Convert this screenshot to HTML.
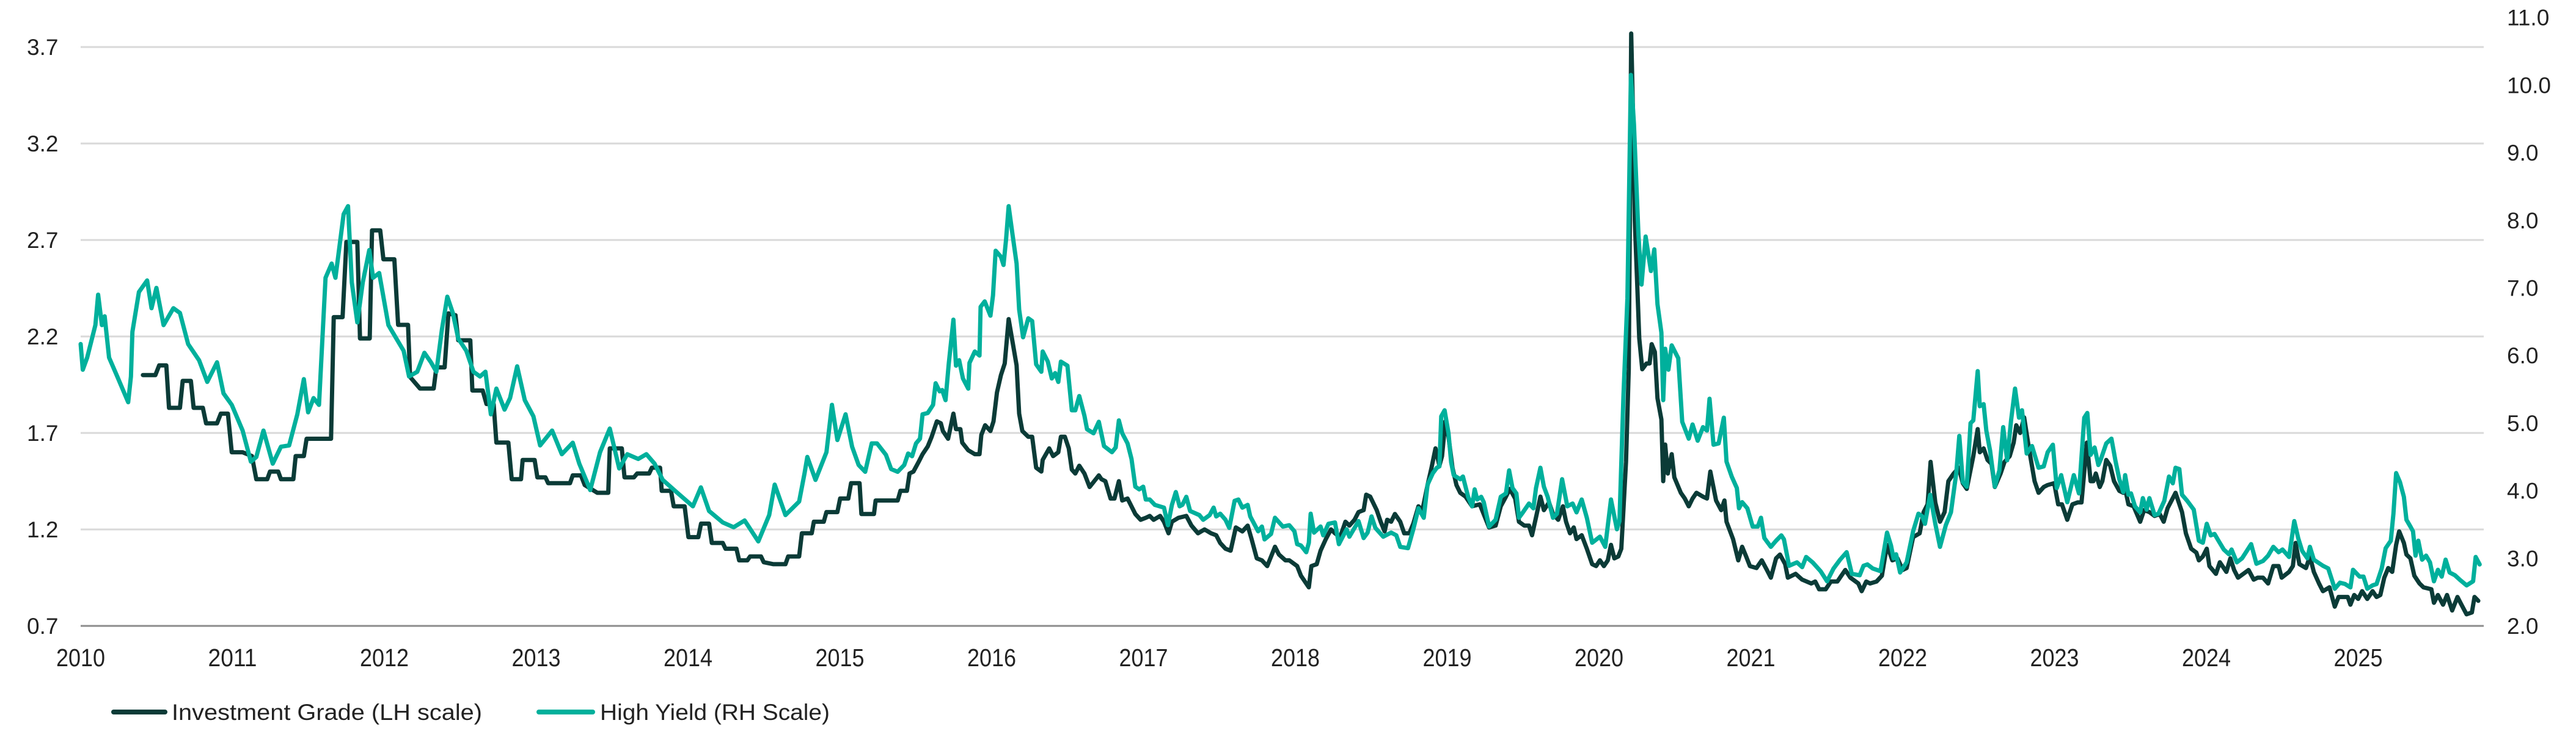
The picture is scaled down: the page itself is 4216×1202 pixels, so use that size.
<!DOCTYPE html>
<html><head><meta charset="utf-8"><style>
html,body{margin:0;padding:0;background:#fff;}
svg{display:block;font-family:"Liberation Sans",sans-serif;}
</style></head><body>
<svg id="chart" width="4216" height="1202" viewBox="0 0 4216 1202" xmlns="http://www.w3.org/2000/svg">
<g id="grid"></g>
<g id="axes"></g>
<g id="series"></g>
<g id="legend">
  <line x1="186" y1="1166" x2="270" y2="1166" stroke="#0b3b37" stroke-width="8" stroke-linecap="round"/>
  <text x="281" y="1179" font-size="37" fill="#222" textLength="508" lengthAdjust="spacingAndGlyphs">Investment Grade (LH scale)</text>
  <line x1="882" y1="1166" x2="970" y2="1166" stroke="#00b09c" stroke-width="8" stroke-linecap="round"/>
  <text x="982" y="1179" font-size="37" fill="#222" textLength="376" lengthAdjust="spacingAndGlyphs">High Yield (RH Scale)</text>
</g>
</svg>
<script>
const leftTicks=[0.7,1.2,1.7,2.2,2.7,3.2,3.7];
const leftTickLabels=["0.7","1.2","1.7","2.2","2.7","3.2","3.7"];
const rightTicks=[2,3,4,5,6,7,8,9,10,11];
const rightTickLabels=["2.0","3.0","4.0","5.0","6.0","7.0","8.0","9.0","10.0","11.0"];
const yearTicks=[2010,2011,2012,2013,2014,2015,2016,2017,2018,2019,2020,2021,2022,2023,2024,2025];
const igDates=[2010.410,2010.492,2010.517,2010.564,2010.582,2010.654,2010.672,2010.726,2010.744,2010.805,2010.826,2010.898,2010.923,2010.970,2010.995,2011.067,2011.128,2011.157,2011.229,2011.247,2011.301,2011.319,2011.401,2011.416,2011.470,2011.488,2011.552,2011.649,2011.667,2011.725,2011.750,2011.822,2011.840,2011.904,2011.919,2011.973,2011.994,2012.066,2012.091,2012.156,2012.170,2012.235,2012.325,2012.343,2012.397,2012.422,2012.469,2012.487,2012.566,2012.580,2012.648,2012.673,2012.720,2012.738,2012.817,2012.839,2012.900,2012.911,2012.990,2013.008,2013.061,2013.079,2013.223,2013.241,2013.295,2013.320,2013.403,2013.475,2013.485,2013.564,2013.582,2013.644,2013.665,2013.744,2013.762,2013.816,2013.827,2013.888,2013.906,2013.978,2014.003,2014.068,2014.086,2014.139,2014.157,2014.229,2014.247,2014.319,2014.337,2014.391,2014.409,2014.481,2014.499,2014.563,2014.642,2014.660,2014.732,2014.750,2014.815,2014.829,2014.894,2014.912,2014.984,2015.002,2015.056,2015.074,2015.130,2015.142,2015.225,2015.236,
2015.304,2015.381,2015.399,2015.442,2015.459,2015.485,2015.519,2015.545,2015.579,2015.605,2015.639,2015.665,2015.679,2015.713,2015.748,2015.765,2015.794,2015.806,2015.846,2015.889,2015.920,2015.932,2015.957,2015.992,2016.012,2016.035,2016.061,2016.086,2016.112,2016.138,2016.164,2016.181,2016.202,2016.241,2016.267,2016.293,2016.327,2016.336,2016.379,2016.405,2016.439,2016.456,2016.482,2016.508,2016.528,2016.551,2016.577,2016.611,2016.645,2016.706,2016.723,2016.749,2016.783,2016.809,2016.838,2016.860,2016.895,2016.946,2016.981,2017.015,2017.041,2017.067,2017.110,2017.135,2017.165,2017.187,2017.230,2017.282,2017.316,2017.359,2017.402,2017.445,2017.479,2017.505,2017.540,2017.574,2017.608,2017.651,2017.686,2017.712,2017.746,2017.780,2017.815,2017.866,2017.892,2017.935,
2017.960,2018.012,2018.037,2018.089,2018.106,2018.141,2018.166,2018.201,2018.235,2018.261,2018.295,2018.330,2018.356,2018.390,2018.416,2018.450,2018.467,2018.493,2018.536,2018.562,2018.588,2018.605,2018.631,2018.656,2018.691,2018.717,2018.751,2018.777,2018.811,2018.837,2018.871,2018.897,2018.923,2018.949,2018.966,2018.988,2019.009,2019.035,2019.061,2019.086,2019.121,2019.164,2019.215,2019.276,2019.319,2019.353,2019.387,2019.413,2019.448,2019.473,2019.508,2019.539,2019.559,2019.590,2019.614,2019.637,2019.671,2019.697,2019.731,2019.762,2019.783,2019.809,2019.834,2019.852,2019.886,2019.920,2019.955,2019.981,2020.006,2020.032,2020.058,2020.079,2020.101,2020.127,2020.147,2020.178,2020.196,2020.212,2020.228,2020.236,2020.265,2020.285,2020.313,2020.333,2020.347,2020.368,2020.385,2020.411,2020.423,2020.436,2020.453,2020.479,2020.496,2020.539,2020.565,2020.591,
2020.616,2020.642,2020.685,2020.711,2020.733,2020.771,2020.805,2020.826,2020.840,2020.883,2020.917,2020.943,2020.969,2020.994,2021.037,2021.072,2021.106,2021.132,2021.166,2021.192,2021.226,2021.244,2021.295,2021.338,2021.398,2021.424,2021.450,2021.493,2021.527,2021.570,2021.596,2021.622,2021.656,2021.708,2021.730,2021.760,2021.785,2021.828,2021.863,2021.897,2021.932,2021.966,2022.000,2022.026,2022.069,2022.112,2022.138,2022.164,2022.184,2022.215,2022.246,2022.276,2022.301,2022.336,2022.370,2022.396,2022.422,2022.465,2022.494,2022.508,2022.533,2022.559,2022.585,2022.607,2022.645,2022.671,2022.705,2022.731,2022.748,2022.774,2022.800,2022.834,2022.869,2022.895,2022.929,2022.955,2022.998,2023.024,2023.049,2023.084,2023.118,2023.152,2023.178,2023.213,2023.238,2023.256,
2023.272,2023.298,2023.315,2023.341,2023.367,2023.392,2023.427,2023.453,2023.465,2023.487,2023.521,2023.564,2023.590,2023.625,2023.659,2023.693,2023.719,2023.745,2023.771,2023.797,2023.840,2023.865,2023.900,2023.934,2023.951,2023.977,2024.003,2024.020,2024.063,2024.089,2024.132,2024.158,2024.183,2024.209,2024.244,2024.278,2024.312,2024.338,2024.373,2024.407,2024.441,2024.476,2024.496,2024.545,2024.570,2024.588,2024.613,2024.656,2024.682,2024.708,2024.742,2024.768,2024.811,2024.846,2024.871,2024.931,2024.949,2024.974,2025.000,2025.026,2025.060,2025.095,2025.121,2025.146,2025.172,2025.198,2025.224,2025.250,2025.270,2025.301,2025.318,2025.344,2025.370,2025.404,2025.430,2025.482,2025.499,2025.525,2025.559,2025.585,2025.619,2025.654,2025.680,2025.714,2025.749,2025.766,2025.791];
const igValues=[2.00,2.00,2.05,2.05,1.83,1.83,1.97,1.97,1.83,1.83,1.75,1.75,1.80,1.80,1.60,1.60,1.58,1.46,1.46,1.50,1.50,1.46,1.46,1.58,1.58,1.67,1.67,1.67,2.30,2.30,2.69,2.69,2.19,2.19,2.75,2.75,2.60,2.60,2.26,2.26,1.99,1.93,1.93,2.04,2.04,2.32,2.31,2.18,2.18,1.92,1.92,1.85,1.85,1.65,1.65,1.46,1.46,1.56,1.56,1.47,1.47,1.44,1.44,1.48,1.48,1.43,1.39,1.39,1.62,1.62,1.47,1.47,1.49,1.49,1.52,1.52,1.40,1.40,1.32,1.32,1.16,1.16,1.23,1.23,1.13,1.13,1.10,1.10,1.04,1.04,1.06,1.06,1.03,1.02,1.02,1.06,1.06,1.18,1.18,1.24,1.24,1.29,1.29,1.36,1.36,1.44,1.44,1.28,1.28,1.35,
1.35,1.35,1.40,1.40,1.49,1.50,1.55,1.59,1.63,1.68,1.76,1.75,1.71,1.67,1.80,1.72,1.72,1.65,1.61,1.59,1.59,1.69,1.74,1.71,1.76,1.91,2.00,2.06,2.29,2.17,2.05,1.80,1.71,1.68,1.68,1.52,1.50,1.56,1.62,1.58,1.60,1.68,1.68,1.62,1.51,1.49,1.53,1.49,1.42,1.48,1.46,1.45,1.36,1.36,1.45,1.35,1.36,1.28,1.25,1.26,1.27,1.25,1.27,1.24,1.18,1.24,1.26,1.27,1.22,1.18,1.20,1.18,1.17,1.13,1.10,1.09,1.21,1.19,1.22,1.15,1.05,1.04,1.01,1.11,1.07,1.04,
1.04,1.01,0.96,0.90,1.01,1.02,1.09,1.15,1.20,1.18,1.16,1.24,1.22,1.25,1.29,1.30,1.38,1.37,1.30,1.24,1.19,1.25,1.24,1.28,1.24,1.18,1.18,1.23,1.32,1.30,1.43,1.52,1.62,1.53,1.58,1.76,1.68,1.52,1.43,1.39,1.37,1.32,1.33,1.21,1.22,1.32,1.37,1.41,1.36,1.24,1.22,1.22,1.17,1.28,1.37,1.30,1.34,1.28,1.25,1.32,1.24,1.18,1.21,1.15,1.17,1.10,1.02,1.01,1.04,1.01,1.04,1.12,1.05,1.06,1.10,1.55,2.03,3.77,3.21,2.80,2.19,2.03,2.06,2.06,2.16,2.12,1.88,1.77,1.45,1.64,1.49,1.59,1.47,1.39,1.36,1.32,
1.36,1.39,1.37,1.36,1.50,1.35,1.30,1.35,1.24,1.15,1.04,1.11,1.06,1.01,1.00,1.04,0.99,0.95,1.05,1.07,1.02,0.95,0.97,0.94,0.92,0.93,0.89,0.89,0.93,0.93,0.96,0.99,0.95,0.92,0.88,0.93,0.92,0.93,0.96,1.12,1.04,1.05,0.99,1.00,1.16,1.18,1.29,1.33,1.55,1.34,1.24,1.29,1.45,1.49,1.52,1.44,1.41,1.58,1.72,1.60,1.62,1.56,1.54,1.42,1.49,1.55,1.58,1.65,1.74,1.70,1.78,1.61,1.45,1.39,1.42,1.43,1.44,1.33,1.33,1.25,1.33,1.34,1.34,1.65,1.45,1.45,
1.49,1.42,1.45,1.56,1.53,1.45,1.40,1.39,1.41,1.33,1.32,1.24,1.30,1.29,1.27,1.28,1.24,1.31,1.35,1.39,1.29,1.18,1.10,1.08,1.04,1.06,1.10,1.01,0.97,1.03,0.98,1.05,0.99,0.95,0.97,0.99,0.94,0.95,0.95,0.92,1.01,1.01,0.95,0.98,1.01,1.13,1.02,1.00,1.06,0.98,0.92,0.88,0.90,0.80,0.85,0.85,0.81,0.86,0.84,0.88,0.84,0.88,0.85,0.86,0.95,1.00,0.98,1.12,1.19,1.13,1.07,1.05,0.96,0.92,0.90,0.89,0.82,0.86,0.81,0.86,0.78,0.85,0.81,0.76,0.77,0.85,0.83];
const hyDates=[2010.000,2010.014,2010.043,2010.097,2010.115,2010.140,2010.158,2010.187,2010.241,2010.313,2010.331,2010.341,2010.384,2010.438,2010.467,2010.499,2010.546,2010.611,2010.654,2010.708,2010.780,2010.834,2010.898,2010.941,2010.995,2011.067,2011.121,2011.157,2011.204,2011.265,2011.319,2011.373,2011.427,2011.470,2011.498,2011.534,2011.570,2011.613,2011.653,2011.678,2011.732,2011.761,2011.786,2011.822,2011.858,2011.901,2011.926,2011.966,2012.027,2012.127,2012.163,2012.217,2012.264,2012.307,2012.343,2012.379,2012.415,2012.451,2012.487,2012.540,2012.587,2012.630,2012.666,2012.702,2012.738,2012.792,2012.828,2012.875,2012.925,2012.982,2013.026,2013.105,2013.169,2013.241,2013.284,2013.356,2013.421,2013.485,2013.547,2013.600,2013.672,2013.726,2013.780,2013.834,2013.924,2014.032,2014.085,2014.139,2014.229,2014.301,2014.373,2014.463,2014.535,2014.571,2014.642,2014.732,2014.768,2014.786,2014.840,2014.912,2014.948,2014.984,2015.038,2015.081,2015.124,2015.167,2015.210,2015.245,
2015.304,2015.338,2015.381,2015.424,2015.450,2015.476,2015.502,2015.528,2015.545,2015.579,2015.614,2015.631,2015.657,2015.674,2015.696,2015.717,2015.748,2015.765,2015.786,2015.811,2015.846,2015.854,2015.889,2015.920,2015.927,2015.954,2015.992,2016.009,2016.026,2016.061,2016.078,2016.095,2016.112,2016.138,2016.164,2016.181,2016.207,2016.241,2016.267,2016.293,2016.327,2016.336,2016.370,2016.396,2016.418,2016.439,2016.456,2016.499,2016.528,2016.551,2016.577,2016.611,2016.628,2016.671,2016.706,2016.740,2016.792,2016.817,2016.838,2016.860,2016.895,2016.921,2016.946,2016.972,2016.998,2017.015,2017.041,2017.075,2017.135,2017.161,2017.187,2017.213,2017.238,2017.256,2017.282,2017.307,2017.368,2017.393,2017.436,2017.462,2017.479,2017.505,2017.540,2017.565,2017.600,2017.625,2017.651,2017.686,2017.703,2017.755,2017.780,2017.797,2017.840,2017.866,2017.918,
2017.960,2017.994,2018.012,2018.037,2018.072,2018.089,2018.101,2018.123,2018.166,2018.184,2018.218,2018.261,2018.287,2018.338,2018.356,2018.416,2018.450,2018.476,2018.502,2018.527,2018.579,2018.631,2018.665,2018.691,2018.742,2018.777,2018.811,2018.846,2018.871,2018.906,2018.932,2018.949,2018.961,2018.983,2019.009,2019.026,2019.043,2019.086,2019.104,2019.138,2019.164,2019.181,2019.198,2019.224,2019.241,2019.276,2019.319,2019.353,2019.387,2019.408,2019.430,2019.456,2019.473,2019.499,2019.539,2019.568,2019.585,2019.614,2019.637,2019.662,2019.697,2019.723,2019.757,2019.791,2019.826,2019.852,2019.886,2019.920,2019.955,2020.006,2020.041,2020.079,2020.118,2020.135,2020.161,2020.187,2020.210,2020.230,2020.260,2020.280,2020.307,2020.342,2020.364,2020.385,2020.411,2020.423,2020.436,2020.457,2020.479,2020.522,2020.548,2020.591,
2020.616,2020.650,2020.685,2020.711,2020.728,2020.754,2020.788,2020.822,2020.840,2020.874,2020.908,2020.922,2020.943,2020.977,2021.012,2021.046,2021.067,2021.089,2021.132,2021.166,2021.201,2021.218,2021.252,2021.304,2021.338,2021.364,2021.407,2021.459,2021.502,2021.545,2021.588,2021.631,2021.665,2021.717,2021.742,2021.768,2021.803,2021.854,2021.897,2021.923,2021.940,2021.957,2021.983,2022.026,2022.069,2022.104,2022.129,2022.147,2022.181,2022.215,2022.246,2022.284,2022.318,2022.353,2022.373,2022.396,2022.422,2022.447,2022.465,2022.494,2022.508,2022.533,2022.551,2022.576,2022.607,2022.637,2022.662,2022.688,2022.714,2022.740,2022.766,2022.786,2022.817,2022.852,2022.895,2022.929,2022.955,2022.989,2023.015,2023.044,2023.084,2023.127,2023.161,2023.196,2023.216,2023.238,2023.264,
2023.289,2023.306,2023.341,2023.375,2023.401,2023.427,2023.453,2023.465,2023.487,2023.504,2023.530,2023.564,2023.582,2023.607,2023.625,2023.659,2023.685,2023.723,2023.754,2023.779,2023.797,2023.822,2023.840,2023.874,2023.917,2023.951,2023.977,2024.003,2024.029,2024.054,2024.080,2024.115,2024.149,2024.166,2024.201,2024.235,2024.261,2024.295,2024.330,2024.373,2024.407,2024.441,2024.476,2024.502,2024.545,2024.579,2024.605,2024.631,2024.665,2024.682,2024.708,2024.734,2024.768,2024.803,2024.846,2024.880,2024.914,2024.949,2024.966,2025.009,2025.035,2025.060,2025.095,2025.121,2025.155,2025.181,2025.215,2025.232,2025.250,2025.275,2025.301,2025.318,2025.344,2025.361,2025.378,2025.396,2025.421,2025.447,2025.473,2025.499,2025.525,2025.550,2025.576,2025.602,2025.637,2025.671,2025.714,2025.757,2025.774,2025.800];
const hyValues=[6.17,5.79,5.97,6.45,6.90,6.45,6.58,5.97,5.69,5.31,5.69,6.35,6.94,7.11,6.70,7.00,6.45,6.70,6.63,6.17,5.93,5.61,5.90,5.44,5.27,4.89,4.43,4.50,4.89,4.40,4.65,4.67,5.13,5.65,5.16,5.37,5.27,7.15,7.36,7.15,8.09,8.21,7.08,6.49,7.08,7.56,7.15,7.22,6.45,6.07,5.69,5.76,6.04,5.90,5.76,6.38,6.87,6.63,6.25,6.07,5.76,5.69,5.76,5.13,5.51,5.20,5.37,5.84,5.34,5.10,4.67,4.89,4.54,4.71,4.40,4.01,4.57,4.92,4.33,4.54,4.47,4.54,4.40,4.16,3.98,3.77,4.05,3.70,3.53,3.46,3.56,3.25,3.64,4.09,3.64,3.84,4.26,4.50,4.16,4.57,5.27,4.75,5.13,4.65,4.38,4.28,4.70,4.70,
4.53,4.32,4.28,4.38,4.55,4.51,4.70,4.77,5.13,5.15,5.27,5.59,5.47,5.49,5.34,5.87,6.53,5.85,5.93,5.66,5.51,5.89,6.06,6.00,6.72,6.80,6.59,6.89,7.55,7.46,7.34,7.72,8.21,7.78,7.36,6.68,6.27,6.55,6.51,5.87,5.76,6.06,5.91,5.66,5.74,5.61,5.91,5.85,5.19,5.19,5.40,5.11,4.91,4.85,5.02,4.66,4.57,4.64,5.04,4.85,4.70,4.47,4.06,4.02,4.06,3.87,3.87,3.79,3.75,3.49,3.79,3.98,3.77,3.79,3.91,3.70,3.64,3.57,3.64,3.75,3.62,3.66,3.57,3.45,3.85,3.87,3.75,3.79,3.62,3.40,3.47,3.28,3.36,3.60,3.47,
3.49,3.40,3.21,3.19,3.09,3.23,3.66,3.38,3.47,3.34,3.51,3.53,3.21,3.43,3.32,3.55,3.30,3.38,3.62,3.45,3.32,3.38,3.34,3.17,3.15,3.43,3.74,3.60,4.09,4.26,4.34,4.36,5.10,5.19,4.85,4.42,4.23,4.17,4.21,3.91,3.77,4.02,3.87,3.91,3.83,3.47,3.57,3.91,3.96,4.30,4.04,3.96,3.60,3.68,3.81,3.74,4.04,4.34,4.06,3.91,3.60,3.66,4.17,3.77,3.81,3.68,3.87,3.60,3.23,3.32,3.17,3.87,3.43,3.55,5.40,6.85,10.15,9.42,7.78,7.05,7.76,7.25,7.57,6.76,6.34,5.34,6.10,5.79,6.15,5.96,5.02,4.77,
4.98,4.74,4.94,4.89,5.36,4.68,4.70,5.08,4.43,4.21,4.04,3.74,3.83,3.74,3.47,3.47,3.60,3.30,3.17,3.26,3.34,3.28,2.89,2.94,2.87,3.02,2.94,2.81,2.66,2.85,2.98,3.09,2.77,2.75,2.89,2.91,2.85,2.81,3.38,3.19,3.00,3.06,2.79,2.94,3.40,3.66,3.62,3.51,3.94,3.51,3.17,3.49,3.68,4.26,4.81,4.13,4.06,5.00,5.04,5.77,5.25,5.28,4.89,4.59,4.06,4.30,4.94,4.45,5.04,5.51,5.08,5.19,4.55,4.66,4.34,4.36,4.57,4.68,4.04,4.23,3.83,4.23,3.96,5.08,5.15,4.53,4.64,
4.38,4.47,4.70,4.77,4.45,4.17,3.98,4.23,3.94,3.96,3.77,3.68,3.89,3.72,3.89,3.64,3.66,3.85,4.21,4.11,4.34,4.32,3.94,3.85,3.72,3.26,3.23,3.51,3.34,3.36,3.26,3.13,3.06,3.13,2.94,3.00,3.09,3.21,2.92,2.96,3.04,3.17,3.09,3.13,3.02,3.55,3.30,3.11,3.00,3.17,2.98,2.94,2.89,2.85,2.55,2.64,2.62,2.57,2.83,2.73,2.73,2.55,2.60,2.62,2.85,3.15,3.26,3.66,4.26,4.13,3.91,3.57,3.47,3.40,3.04,3.26,2.98,3.04,2.94,2.66,2.83,2.73,2.98,2.79,2.75,2.68,2.60,2.66,3.02,2.91];

const NS='http://www.w3.org/2000/svg';
const X0=132,X1=4065,PX_PER_YEAR=248.5,BASE_Y=1025;
function xScale(t){return X0+(t-2010)*PX_PER_YEAR;}
function yLeft(v){return BASE_Y-(v-0.7)*316;}
function yRight(v){return BASE_Y-(v-2)*110.7;}
function mk(tag,attrs,parent){const e=document.createElementNS(NS,tag);for(const k in attrs)e.setAttribute(k,attrs[k]);parent.appendChild(e);return e;}
const grid=document.getElementById('grid'),axes=document.getElementById('axes'),series=document.getElementById('series');

leftTicks.forEach((v,i)=>{
  const y=yLeft(v);
  if(i>0){
    const g=mk('line',{x1:X0,x2:X1,y1:y,y2:y,stroke:'#d9d9d9','stroke-width':3},grid);
    
    
  }
  const t=mk('text',{x:44,y:y+13,'font-size':37,fill:'#222'},axes);
  t.textContent=leftTickLabels[i];
  
  
});
rightTicks.forEach((v,i)=>{
  const t=mk('text',{x:4103,y:yRight(v)+13,'font-size':37,fill:'#222'},axes);
  t.textContent=rightTickLabels[i];
  
  
});
const ax=mk('line',{x1:X0,x2:X1,y1:BASE_Y,y2:BASE_Y,stroke:'#8c8c8c','stroke-width':3},axes);


yearTicks.forEach(yr=>{
  const t=mk('text',{x:xScale(yr),y:1091,'font-size':41,fill:'#222','text-anchor':'middle',textLength:80,lengthAdjust:'spacingAndGlyphs'},axes);
  t.textContent=String(yr);
  
  
});
function path(dates,vals,ys){return dates.map((d,i)=>(i?'L':'M')+xScale(d).toFixed(1)+','+ys(vals[i]).toFixed(1)).join('');}
const ig=mk('path',{d:path(igDates,igValues,yLeft),fill:'none',stroke:'#0b3b37','stroke-width':7,'stroke-linejoin':'round','stroke-linecap':'round'},series);


const hy=mk('path',{d:path(hyDates,hyValues,yRight),fill:'none',stroke:'#00b09c','stroke-width':7,'stroke-linejoin':'round','stroke-linecap':'round'},series);


</script>
</body></html>
